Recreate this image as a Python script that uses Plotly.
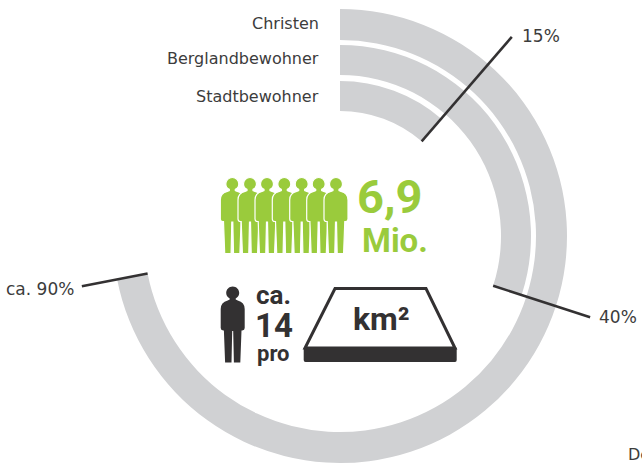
import plotly.graph_objects as go
import math

W, H = 642, 465
CX, CY = 340, 236

ring_names = ["Christen", "Berglandbewohner", "Stadtbewohner"]
# arc lengths as drawn (share of the full circle)
ring_drawn = [0.7194, 0.300, 0.1133]
ring_labels = ["ca. 90%", "40%", "15%"]
ring_outer = [227, 191, 155]
ring_inner = [196, 161, 125]

GREY = "#D0D1D3"
GREEN = "#9ACB3C"
DARK = "#333132"
TEXT = "#3c3c3c"
SANS = "DejaVu Sans"
BOLD = "Roboto"

fig = go.Figure()
for v, ro, ri in zip(ring_drawn, ring_outer, ring_inner):
    fig.add_trace(go.Pie(
        values=[v, 1 - v], sort=False, direction="clockwise", rotation=0,
        hole=ri / ro, textinfo="none", hoverinfo="skip", showlegend=False,
        marker=dict(colors=[GREY, "rgba(0,0,0,0)"], line=dict(width=0)),
        domain=dict(x=[(CX - ro) / W, (CX + ro) / W],
                    y=[1 - (CY + ro) / H, 1 - (CY - ro) / H]),
    ))


def px(x):
    return x / W


def py(y):
    return 1 - y / H


def fmt(cmds):
    out = []
    for c in cmds:
        if c[0] == "Z":
            out.append("Z")
        else:
            pts = c[1:]
            s = " ".join(f"{px(pts[i]):.5f},{py(pts[i + 1]):.5f}" for i in range(0, len(pts), 2))
            out.append(c[0] + s)
    return " ".join(out)


def person(cx, cy):
    cmds = [
        ("M", cx - 3, cy + 5.4),
        ("C", cx - 5.5, cy + 4.2, cx - 6.5, cy + 2, cx - 6.5, cy),
        ("C", cx - 6.5, cy - 3.6, cx - 3.6, cy - 6.5, cx, cy - 6.5),
        ("C", cx + 3.6, cy - 6.5, cx + 6.5, cy - 3.6, cx + 6.5, cy),
        ("C", cx + 6.5, cy + 2, cx + 5.5, cy + 4.2, cx + 3, cy + 5.4),
        ("L", cx + 3, cy + 6.6), ("L", cx + 5, cy + 7.4),
        ("Q", cx + 12, cy + 9, cx + 12, cy + 16),
        ("L", cx + 12, cy + 35),
        ("Q", cx + 12, cy + 37.5, cx + 9.5, cy + 37.5),
        ("L", cx + 8.8, cy + 37.5), ("L", cx + 7.6, cy + 69.5), ("L", cx + 1.2, cy + 69.5),
        ("L", cx + 0.5, cy + 38), ("L", cx - 0.5, cy + 38),
        ("L", cx - 1.2, cy + 69.5), ("L", cx - 7.6, cy + 69.5), ("L", cx - 8.8, cy + 37.5),
        ("L", cx - 9.5, cy + 37.5),
        ("Q", cx - 12, cy + 37.5, cx - 12, cy + 35),
        ("L", cx - 12, cy + 16),
        ("Q", cx - 12, cy + 9, cx - 5, cy + 7.4),
        ("L", cx - 3, cy + 6.6),
        ("Z",),
    ]
    return fmt(cmds)


shapes = []


def add_path(path, fill, line=None, width=0):
    shapes.append(dict(type="path", xref="paper", yref="paper", path=path,
                       fillcolor=fill, layer="above",
                       line=dict(color=line or fill, width=width)))


# leader lines
for v, ri in zip(ring_drawn, ring_inner):
    a = 2 * math.pi * v
    r2 = 263
    shapes.append(dict(type="line", xref="paper", yref="paper", layer="above",
                       x0=px(CX + ri * math.sin(a)), y0=py(CY - ri * math.cos(a)),
                       x1=px(CX + r2 * math.sin(a)), y1=py(CY - r2 * math.cos(a)),
                       line=dict(color=DARK, width=2.5)))

# people
for hx in [232.3, 250, 267, 284.3, 301.7, 318.7, 336]:
    add_path(person(hx, 184), GREEN, "#ffffff", 1.2)
add_path(person(232.7, 293), DARK)

# km2 plate
add_path(fmt([("M", 335, 288.5), ("L", 426, 288.5), ("L", 455, 348), ("L", 305, 348), ("Z",)]),
         "#ffffff", DARK, 3)
add_path(fmt([("M", 305.5, 347), ("L", 455, 347), ("Q", 456.7, 347, 456.7, 349),
              ("L", 456.7, 360), ("Q", 456.7, 362, 455, 362), ("L", 305.5, 362),
              ("Q", 303.7, 362, 303.7, 360), ("L", 303.7, 349), ("Q", 303.7, 347, 305.5, 347), ("Z",)]),
         DARK)

annotations = []


def label(x, y, text, size, color=TEXT, anchor="left", family=SANS):
    annotations.append(dict(xref="paper", yref="paper", x=px(x), y=py(y), text=text,
                            showarrow=False, xanchor=anchor, yanchor="middle",
                            borderpad=0,
                            font=dict(family=family, size=size, color=color)))


for name, y in zip(ring_names, [23.5, 58.5, 96.5]):
    label(320, y, name, 16, anchor="right")
label(521, 36, ring_labels[2], 17)
label(598, 317, ring_labels[1], 17)
label(5, 289, ring_labels[0], 17)
label(627, 454.5, "Der", 16)

label(390, 196, "<b>6,9</b>", 47, GREEN, "center", BOLD)
label(395, 240, "<b>Mio.</b>", 33, GREEN, "center", BOLD)
label(273.5, 295, "<b>ca.</b>", 26, DARK, "center", BOLD)
label(273.5, 325, "<b>14</b>", 33, DARK, "center", BOLD)
label(273.5, 353, "<b>pro</b>", 22, DARK, "center", BOLD)
label(382, 319, "<b>km²</b>", 32, DARK, "center", BOLD)

fig.update_layout(width=W, height=H, margin=dict(l=0, r=0, t=0, b=0),
                  paper_bgcolor="#ffffff", plot_bgcolor="#ffffff",
                  shapes=shapes, annotations=annotations, showlegend=False)
fig.write_html("out.html", config={"displayModeBar": False},
               post_script="document.body.style.margin='0';document.body.style.overflow='hidden';")
